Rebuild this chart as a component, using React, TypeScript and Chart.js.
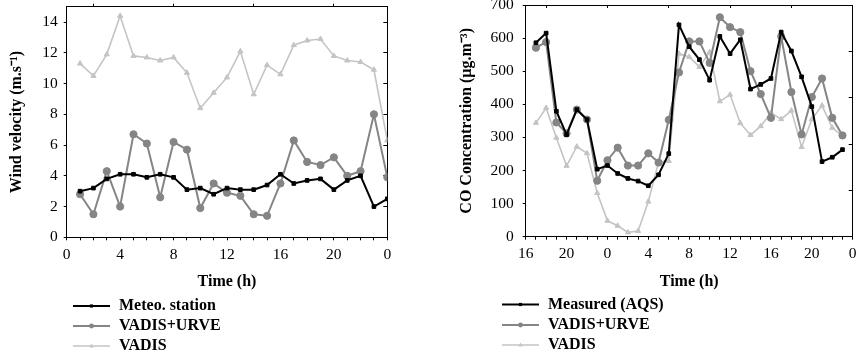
import React, { useEffect, useRef } from 'react';
import { Chart, registerables } from 'chart.js';

Chart.register(...registerables);

// ---------- Left chart: wind velocity ----------
const leftHours = [1, 2, 3, 4, 5, 6, 7, 8, 9, 10, 11, 12, 13, 14, 15, 16, 17, 18, 19, 20, 21, 22, 23, 24];
const meteoStation = [3.0, 3.2, 3.8, 4.1, 4.1, 3.9, 4.1, 3.9, 3.1, 3.2, 2.8, 3.2, 3.1, 3.1, 3.4, 4.1, 3.5, 3.7, 3.8, 3.1, 3.7, 4.0, 2.0, 2.5];
const leftVadisUrve = [2.8, 1.5, 4.3, 2.0, 6.7, 6.1, 2.6, 6.2, 5.7, 1.9, 3.5, 2.9, 2.7, 1.5, 1.4, 3.5, 6.3, 4.9, 4.7, 5.2, 4.0, 4.3, 8.0, 3.9];
const leftVadis = [11.3, 10.5, 11.9, 14.4, 11.8, 11.7, 11.5, 11.7, 10.7, 8.4, 9.4, 10.4, 12.1, 9.3, 11.2, 10.6, 12.5, 12.8, 12.9, 11.8, 11.5, 11.4, 10.9, 6.3];
const leftXTickValues = [0, 4, 8, 12, 16, 20, 24];
const leftXTickLabels = ['0', '4', '8', '12', '16', '20', '0'];
const leftTopTicks = [2, 8, 14, 20];

// ---------- Right chart: CO concentration ----------
const rightHours = [17, 18, 19, 20, 21, 22, 23, 24, 25, 26, 27, 28, 29, 30, 31, 32, 33, 34, 35, 36, 37, 38, 39, 40, 41, 42, 43, 44, 45, 46, 47];
const measuredAQS = [586, 615, 379, 308, 384, 354, 204, 215, 191, 176, 168, 154, 187, 251, 640, 574, 535, 473, 605, 553, 595, 446, 460, 478, 618, 561, 483, 393, 227, 240, 263];
const rightVadisUrve = [571, 588, 345, 312, 384, 354, 169, 231, 269, 215, 215, 252, 224, 353, 496, 590, 590, 525, 663, 633, 618, 500, 431, 359, 605, 437, 309, 422, 478, 359, 306];
const rightVadis = [344, 389, 299, 214, 272, 252, 132, 48, 33, 13, 17, 106, 226, 229, 553, 543, 513, 558, 409, 429, 343, 307, 334, 374, 355, 381, 271, 355, 396, 329, 304];
const rightXTickValues = [16, 20, 24, 28, 32, 36, 40, 44, 48];
const rightXTickLabels = ['16', '20', '0', '4', '8', '12', '16', '20', '0'];
const rightTopTicks = [18, 24, 30, 36, 42];

const SERIF = "'Liberation Serif', 'Times New Roman', serif";
const BLACK = '#000000';
const MID_GRAY = '#858585';
const LIGHT_GRAY = '#c4c4c4';

function drawMarker(ctx: CanvasRenderingContext2D, style: string, x: number, y: number, r: number) {
  ctx.beginPath();
  if (style === 'rect') {
    ctx.rect(x - r, y - r, 2 * r, 2 * r);
  } else if (style === 'circle') {
    ctx.arc(x, y, r, 0, Math.PI * 2);
  } else {
    ctx.moveTo(x, y - r * 1.1);
    ctx.lineTo(x + r, y + r * 0.7);
    ctx.lineTo(x - r, y + r * 0.7);
    ctx.closePath();
  }
  ctx.fill();
}

const stackedLegend = {
  id: 'stackedLegend',
  afterDraw(chart: any, _args: any, opts: any) {
    const { ctx } = chart;
    const rows: number[] = opts.rows || [];
    chart.data.datasets.forEach((ds: any, i: number) => {
      const y = rows[i];
      if (y === undefined) return;
      ctx.save();
      ctx.strokeStyle = ds.borderColor;
      ctx.lineWidth = ds.borderWidth;
      ctx.beginPath();
      ctx.moveTo(opts.lineStart, y);
      ctx.lineTo(opts.lineEnd, y);
      ctx.stroke();
      ctx.fillStyle = ds.pointBackgroundColor;
      drawMarker(ctx, ds.pointStyle, (opts.lineStart + opts.lineEnd) / 2, y, opts.markerSizes[i]);
      ctx.fillStyle = BLACK;
      ctx.font = `bold 16px ${SERIF}`;
      ctx.textBaseline = 'middle';
      ctx.textAlign = 'left';
      ctx.fillText(ds.label, opts.textX, y);
      ctx.restore();
    });
  },
};

function series(label: string, xs: number[], ys: number[], kind: 'black' | 'mid' | 'light') {
  const color = kind === 'black' ? BLACK : kind === 'mid' ? MID_GRAY : LIGHT_GRAY;
  return {
    label,
    data: xs.map((x, i) => ({ x, y: ys[i] })),
    borderColor: color,
    backgroundColor: color,
    pointBackgroundColor: color,
    pointBorderColor: color,
    borderWidth: kind === 'light' ? 1.6 : 2,
    pointStyle: kind === 'black' ? 'rect' : kind === 'mid' ? 'circle' : 'triangle',
    pointRadius: kind === 'black' ? 2.6 : kind === 'mid' ? 3.6 : 3,
    pointBorderWidth: 1,
    tension: 0,
    fill: false,
  };
}

const tickFont = { family: SERIF, size: 15.5 };
const titleFont = { family: SERIF, size: 16, weight: 'bold' as const };

function noPad(s: any) {
  s.paddingTop = 0;
  s.paddingBottom = 0;
  s.paddingLeft = 0;
  s.paddingRight = 0;
}

function buildConfig(p: {
  datasets: any[];
  xMin: number; xMax: number; xTickValues: number[]; xTickLabels: string[]; topTicks: number[];
  yMax: number; yStep: number; y2Step: number; yTitle: string;
  padding: any; yWidth: number; yTickPad: number; xHeight: number; topLen: number;
  legendRows: number[];
}) {
  return {
    type: 'line' as const,
    data: { datasets: p.datasets },
    options: {
      responsive: false,
      animation: false as const,
      devicePixelRatio: 1,
      layout: { padding: p.padding },
      plugins: {
        legend: { display: false },
        tooltip: { enabled: false },
        stackedLegend: { rows: p.legendRows, lineStart: 73, lineEnd: 110, textX: 119, markerSizes: [1.6, 2.4, 2.2] },
      },
      scales: {
        x: {
          type: 'linear', position: 'bottom', min: p.xMin, max: p.xMax,
          ticks: {
            stepSize: 1, autoSkip: false, maxRotation: 0, minRotation: 0, includeBounds: false,
            color: BLACK, font: tickFont, padding: 5,
            callback: (v: number) => {
              const idx = p.xTickValues.indexOf(v);
              return idx >= 0 ? p.xTickLabels[idx] : '';
            },
          },
          grid: { drawOnChartArea: false, drawTicks: true, tickLength: 3, color: BLACK },
          border: { display: true, color: BLACK, width: 1 },
          title: { display: true, text: 'Time (h)', color: BLACK, font: titleFont, padding: 0 },
          afterFit: (s: any) => { s.height = p.xHeight; noPad(s); },
        },
        x2: {
          type: 'linear', position: 'top', min: p.xMin, max: p.xMax,
          ticks: { display: false },
          afterBuildTicks: (s: any) => { s.ticks = p.topTicks.map((v) => ({ value: v })); },
          grid: { drawOnChartArea: false, drawTicks: true, tickLength: p.topLen, color: BLACK },
          border: { display: true, color: BLACK, width: 1 },
          afterFit: (s: any) => { s.height = Math.max(p.topLen, 0); noPad(s); },
        },
        y: {
          type: 'linear', position: 'left', min: 0, max: p.yMax,
          ticks: { stepSize: p.yStep, includeBounds: false, color: BLACK, font: tickFont, padding: p.yTickPad },
          grid: { drawOnChartArea: false, drawTicks: true, tickLength: 3, color: BLACK },
          border: { display: true, color: BLACK, width: 1 },
          title: { display: true, text: p.yTitle, color: BLACK, font: titleFont, padding: 0 },
          afterFit: (s: any) => { s.width = p.yWidth; noPad(s); },
        },
        y2: {
          type: 'linear', position: 'right', min: 0, max: p.yMax,
          ticks: { display: false, stepSize: p.y2Step, includeBounds: false },
          grid: { drawOnChartArea: false, drawTicks: true, tickLength: -4, color: BLACK },
          border: { display: true, color: BLACK, width: 1 },
          afterFit: (s: any) => { s.width = 0; noPad(s); },
        },
      },
    },
    plugins: [stackedLegend],
  };
}

const leftConfig = buildConfig({
  datasets: [
    series('Meteo. station', leftHours, meteoStation, 'black'),
    series('VADIS+URVE', leftHours, leftVadisUrve, 'mid'),
    series('VADIS', leftHours, leftVadis, 'light'),
  ],
  xMin: 0, xMax: 24, xTickValues: leftXTickValues, xTickLabels: leftXTickLabels, topTicks: leftTopTicks,
  yMax: 15, yStep: 2, y2Step: 2, yTitle: 'Wind velocity (m.s\u207B\u00B9)',
  padding: { left: 7.4, right: 41.7, top: 3.7, bottom: 66.1 },
  yWidth: 59.3, yTickPad: 6, xHeight: 54.6, topLen: 3,
  legendRows: [306, 326, 346],
});

const rightConfig = buildConfig({
  datasets: [
    series('Measured (AQS)', rightHours, measuredAQS, 'black'),
    series('VADIS+URVE', rightHours, rightVadisUrve, 'mid'),
    series('VADIS', rightHours, rightVadis, 'light'),
  ],
  xMin: 16, xMax: 48, xTickValues: rightXTickValues, xTickLabels: rightXTickLabels, topTicks: rightTopTicks,
  yMax: 700, yStep: 100, y2Step: 140, yTitle: 'CO Concentration (\u00B5g.m\u207B\u00B3)',
  padding: { left: 28.4, right: 5.3, top: 1.7, bottom: 66.7 },
  yWidth: 68.3, yTickPad: 9, xHeight: 54.6, topLen: -3,
  legendRows: [304.5, 325, 345],
});

function LineChart({ config }: { config: any }) {
  const ref = useRef<HTMLCanvasElement>(null);
  useEffect(() => {
    const chart = new Chart(ref.current as HTMLCanvasElement, config);
    return () => chart.destroy();
  }, [config]);
  return <canvas ref={ref} width={429} height={358} style={{ display: 'block', width: 429, height: 358 }} />;
}

export default function App() {
  return (
    <div style={{ position: 'absolute', left: 0, top: 0, width: 858, height: 358, background: '#fff', display: 'flex' }}>
      <LineChart config={leftConfig} />
      <LineChart config={rightConfig} />
    </div>
  );
}
